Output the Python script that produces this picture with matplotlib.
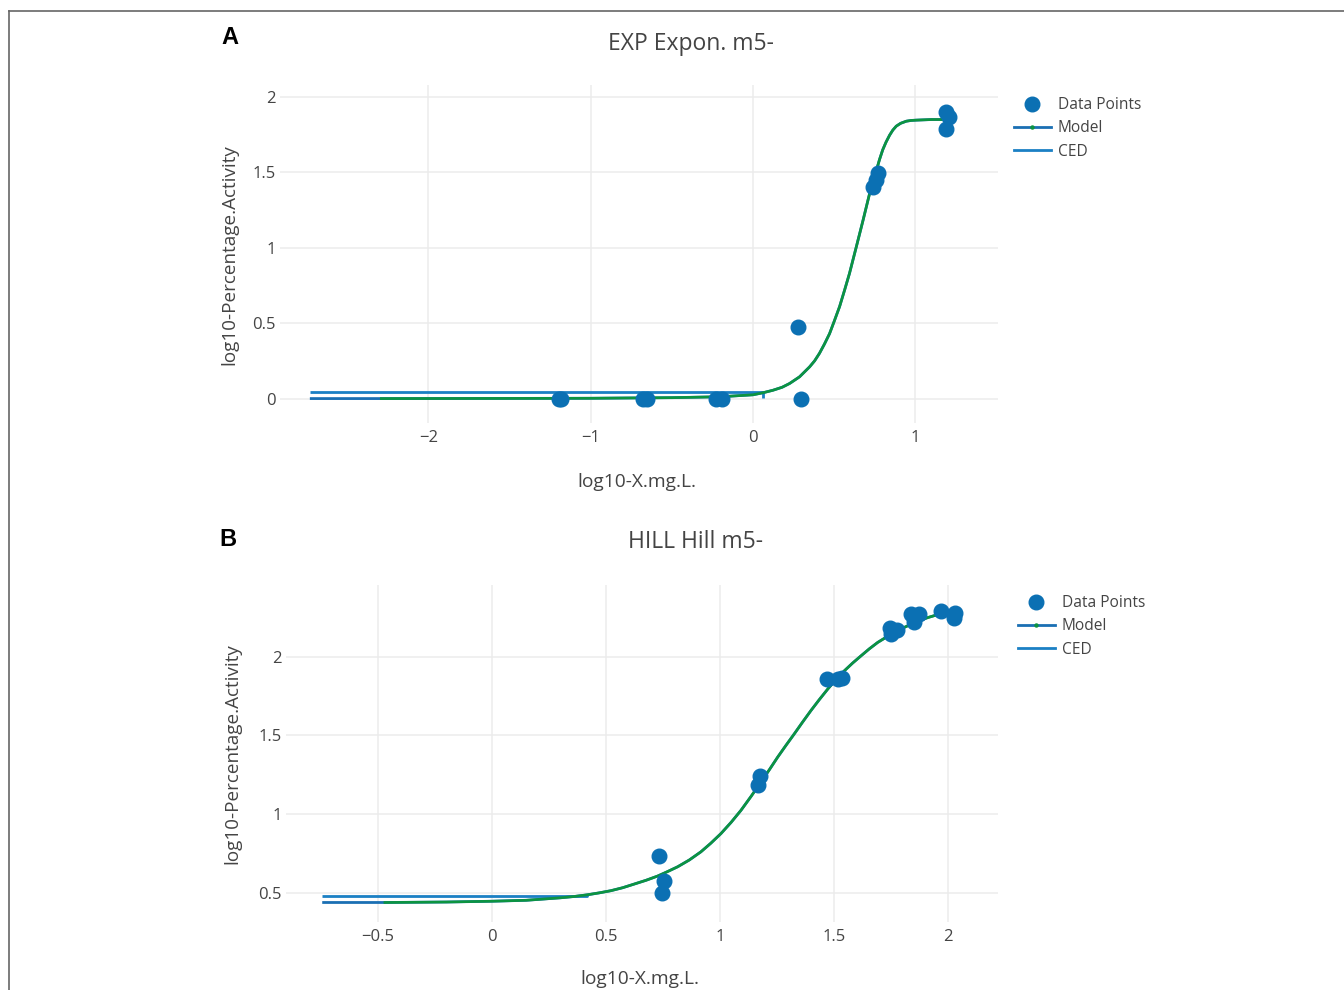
import matplotlib
matplotlib.use("Agg")
import matplotlib.pyplot as plt
from matplotlib.lines import Line2D
from matplotlib import ticker

# ---------------- data ----------------
# Panel A : EXP Expon. m5-
a_pts_x = [-1.195, -1.180, -0.678, -0.653, -0.225, -0.190, 0.277, 0.294,
           0.739, 0.760, 0.770, 1.187, 1.211, 1.191]
a_pts_y = [0.0, 0.0, 0.0, 0.0, 0.0, 0.0, 0.475, 0.0,
           1.400, 1.452, 1.497, 1.901, 1.868, 1.784]
a_model_x = [-2.73, -2.29, -1.5, -1.0, -0.5, -0.2, 0.0, 0.06, 0.123, 0.18,
             0.226, 0.287, 0.349, 0.38, 0.41, 0.44, 0.472, 0.50, 0.534,
             0.565, 0.595, 0.637, 0.678, 0.719, 0.740, 0.760, 0.78, 0.80,
             0.82, 0.842, 0.862, 0.883, 0.91, 0.945, 0.975, 1.006, 1.10,
             1.232]
a_model_y = [0.0, 0.0, 0.001, 0.002, 0.006, 0.012, 0.025, 0.038, 0.055, 0.075,
             0.10, 0.144, 0.21, 0.25, 0.30, 0.36, 0.43, 0.51, 0.61,
             0.72, 0.83, 1.006, 1.18, 1.36, 1.44, 1.51, 1.585, 1.65,
             1.70, 1.746, 1.78, 1.806, 1.825, 1.839, 1.844, 1.846, 1.85,
             1.85]
a_ced_x = [-2.73, 0.06, 0.06]
a_ced_y = [0.044, 0.044, 0.004]
a_xticks = [-2, -1, 0, 1]
a_yticks = [0, 0.5, 1, 1.5, 2]

# Panel B : HILL Hill m5-
b_pts_x = [0.734, 0.753, 0.745, 1.178, 1.169, 1.471, 1.520, 1.535,
           1.745, 1.752, 1.778, 1.840, 1.851, 1.876, 1.971, 2.027, 2.033]
b_pts_y = [0.732, 0.576, 0.496, 1.240, 1.182, 1.859, 1.856, 1.865,
           2.182, 2.144, 2.169, 2.270, 2.224, 2.270, 2.292, 2.245, 2.281]
b_model_x = [-0.745, -0.47, -0.2, 0.0, 0.15, 0.302, 0.36, 0.419, 0.47, 0.522,
             0.574, 0.624, 0.676, 0.727, 0.77, 0.815, 0.866, 0.917, 0.96,
             1.005, 1.05, 1.093, 1.137, 1.181, 1.218, 1.254, 1.29, 1.327,
             1.363, 1.400, 1.437, 1.474, 1.51, 1.547, 1.583, 1.620, 1.656,
             1.693, 1.73, 1.766, 1.803, 1.840, 1.876, 1.913, 1.95, 1.986,
             2.02, 2.052]
b_model_y = [0.438, 0.438, 0.441, 0.446, 0.452, 0.468, 0.476, 0.487, 0.499,
             0.513, 0.532, 0.555, 0.579, 0.606, 0.634, 0.665, 0.708, 0.760,
             0.814, 0.876, 0.948, 1.024, 1.112, 1.204, 1.283, 1.362, 1.436,
             1.510, 1.584, 1.658, 1.728, 1.795, 1.856, 1.911, 1.960, 2.006,
             2.050, 2.091, 2.124, 2.154, 2.182, 2.207, 2.229, 2.249, 2.265,
             2.279, 2.289, 2.296]
b_ced_x = [-0.745, 0.415, 0.415]
b_ced_y = [0.478, 0.478, 0.492]
b_xticks = [-0.5, 0, 0.5, 1, 1.5, 2]
b_yticks = [0.5, 1, 1.5, 2]

legend_labels = ["Data Points", "Model", "CED"]

# ---------------- style ----------------
W, H = 1344, 990
PT_BLUE = "#0b70b3"
MODEL_BLUE = "#1a6fb3"
CED_BLUE = "#1b80c4"
GREEN = "#0c9440"
TXT = "#444444"
GRID = "#ececec"
FONT = "Open Sans"

plt.rcParams["font.family"] = [FONT, "DejaVu Sans"]

fig = plt.figure(figsize=(W / 100, H / 100), dpi=100)
fig.patch.set_facecolor("white")


def fx(px):
    return px / W


def fy(py):
    return 1 - py / H


def fmt(v, pos=None):
    s = f"{v:g}"
    return s.replace("-", "\u2212")


def make_panel(rect, xlim, ylim, xticks, yticks, px, py, mx, my, green_start,
               cx, cy):
    l, t, r, b = rect
    ax = fig.add_axes([fx(l), fy(b), (r - l) / W, (b - t) / H])
    ax.set_xlim(*xlim)
    ax.set_ylim(*ylim)
    ax.set_xticks(xticks)
    ax.set_yticks(yticks)
    ax.xaxis.set_major_formatter(ticker.FuncFormatter(fmt))
    ax.yaxis.set_major_formatter(ticker.FuncFormatter(fmt))
    for s in ax.spines.values():
        s.set_visible(False)
    ax.grid(True, color=GRID, lw=1.1, zorder=0)
    ax.set_axisbelow(True)
    ax.tick_params(axis="both", length=0, labelsize=12, colors=TXT)
    ax.tick_params(axis="x", pad=5)
    ax.tick_params(axis="y", pad=3)
    ax.plot(cx, cy, color=CED_BLUE, lw=2.0, zorder=2, solid_capstyle="butt")
    ax.plot(mx, my, color=MODEL_BLUE, lw=2.0, zorder=3, solid_capstyle="butt")
    ax.plot(mx[green_start:], my[green_start:], color=GREEN, lw=1.9, zorder=4,
            solid_joinstyle="round")
    ax.plot(px, py, "o", ms=10.5, color=PT_BLUE, mec=PT_BLUE, zorder=5,
            clip_on=False)
    return ax


axA = make_panel((280, 85, 998, 423), (-2.914, 1.510), (-0.162, 2.079),
                 a_xticks, a_yticks, a_pts_x, a_pts_y, a_model_x, a_model_y,
                 1, a_ced_x, a_ced_y)
axB = make_panel((286, 585, 998, 922), (-0.904, 2.221), (0.314, 2.456),
                 b_xticks, b_yticks, b_pts_x, b_pts_y, b_model_x, b_model_y,
                 1, b_ced_x, b_ced_y)

# legends
handles = [
    Line2D([0], [0], ls="none", marker="o", ms=10.5, color=PT_BLUE),
    Line2D([0], [0], color=MODEL_BLUE, lw=2.0, marker="o", ms=2.2,
           mfc=GREEN, mec=GREEN),
    Line2D([0], [0], color=CED_BLUE, lw=2.0),
]
for ax, (lx, ly) in ((axA, (1014, 97)), (axB, (1018, 595))):
    leg = ax.legend(handles, legend_labels, loc="upper left",
                    bbox_to_anchor=(fx(lx), fy(ly)),
                    bbox_transform=fig.transFigure, frameon=False,
                    fontsize=11.2, handlelength=2.35, handletextpad=0.45,
                    labelspacing=0.48, borderaxespad=0, borderpad=0)
    for t in leg.get_texts():
        t.set_color(TXT)

# titles, axis labels, panel letters
fig.text(fx(691), fy(44), "EXP Expon. m5-", ha="center", va="center",
         fontsize=16.5, color=TXT)
fig.text(fx(695), fy(542), "HILL Hill m5-", ha="center", va="center",
         fontsize=16.5, color=TXT)
fig.text(fx(637), fy(482), "log10-X.mg.L.", ha="center", va="center",
         fontsize=13.8, color=TXT)
fig.text(fx(640), fy(979), "log10-X.mg.L.", ha="center", va="center",
         fontsize=13.8, color=TXT)
fig.text(fx(229), fy(255), "log10-Percentage.Activity", ha="center",
         va="center", rotation=90, fontsize=13.6, color=TXT)
fig.text(fx(232), fy(754), "log10-Percentage.Activity", ha="center",
         va="center", rotation=90, fontsize=13.6, color=TXT)
fig.text(fx(230), fy(38), "A", ha="center", va="center", fontsize=17,
         fontweight="bold", family="Liberation Sans", color="black")
fig.text(fx(228), fy(540), "B", ha="center", va="center", fontsize=17,
         fontweight="bold", family="Liberation Sans", color="black")

# frame lines (top and left)
fig.add_artist(Line2D([fx(9), fx(W)], [fy(10.5), fy(10.5)],
                      transform=fig.transFigure, color="#666666", lw=1.2))
fig.add_artist(Line2D([fx(9), fx(9)], [fy(10.5), 0],
                      transform=fig.transFigure, color="#666666", lw=1.2))

fig.savefig("out.png", dpi=100, facecolor="white")
